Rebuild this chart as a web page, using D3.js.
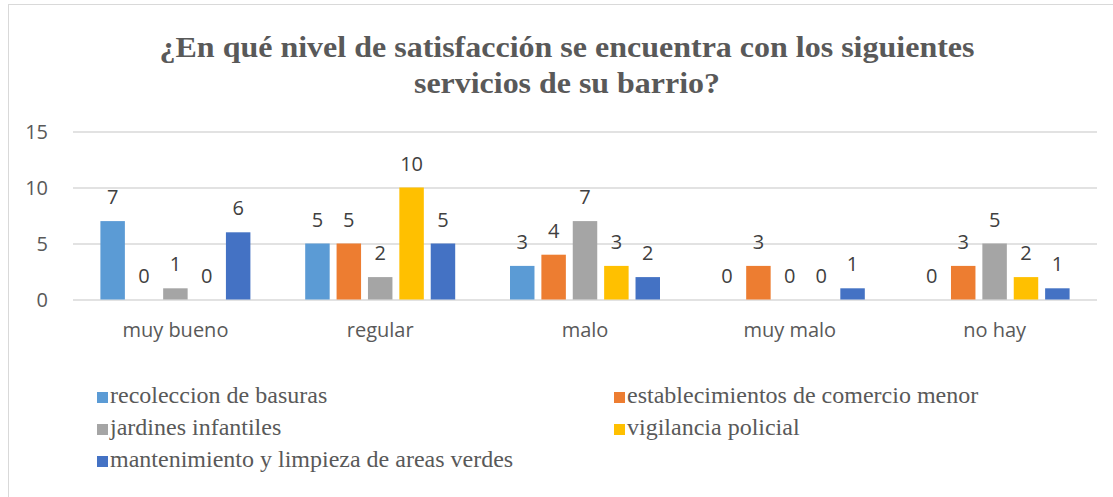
<!DOCTYPE html>
<html>
<head>
<meta charset="utf-8">
<script src="https://cdn.jsdelivr.net/npm/d3@7"></script>
<style>
  html, body { margin: 0; padding: 0; background: #fff; }
  #chart { width: 1113px; height: 497px; overflow: hidden; }
  .serif { font-family: 'Liberation Serif', Tinos, 'Times New Roman', serif; }
  .sans { font-family: 'Open Sans', sans-serif; }
</style>
</head>
<body>
<div id="chart"></div>
<script>
const categories = ['muy bueno', 'regular', 'malo', 'muy malo', 'no hay'];
const seriesNames = [
    'recoleccion de basuras',
    'establecimientos de comercio menor',
    'jardines infantiles',
    'vigilancia policial',
    'mantenimiento y limpieza de areas verdes'
];
const recoleccion = [7, 5, 3, 0, 0];
const comercio = [0, 5, 4, 3, 3];
const jardines = [1, 2, 7, 0, 5];
const vigilancia = [0, 10, 3, 0, 2];
const mantenimiento = [6, 5, 2, 1, 1];
const yTicks = [0, 5, 10, 15];
const colors = ['#5B9BD5', '#ED7D31', '#A5A5A5', '#FFC000', '#4472C4'];
const titleLines = [
    '¿En qué nivel de satisfacción se encuentra con los siguientes',
    'servicios de su barrio?'
];

const seriesValues = [recoleccion, comercio, jardines, vigilancia, mantenimiento];

const width = 1113;
const height = 497;
const plot = { left: 73, right: 1097, top: 131.5, bottom: 299.5 };

const svg = d3.select('#chart')
    .append('svg')
    .attr('width', width)
    .attr('height', height);

// chart border
svg.append('rect')
    .attr('x', 8.5)
    .attr('y', 4.5)
    .attr('width', 1200)
    .attr('height', 600)
    .attr('fill', 'none')
    .attr('stroke', '#d9d9d9')
    .attr('stroke-width', 1);

// title
const title = svg.append('g')
    .attr('class', 'serif')
    .style('font-weight', 'bold')
    .style('font-size', '30px')
    .attr('fill', '#595959')
    .attr('text-anchor', 'middle');

title.selectAll('text')
    .data(titleLines)
    .join('text')
    .attr('x', 567)
    .attr('y', (d, i) => 57 + i * 36)
    .attr('textLength', (d, i) => i === 0 ? 815 : 306)
    .attr('lengthAdjust', 'spacingAndGlyphs')
    .text(d => d);

const x0 = d3.scaleBand()
    .domain(categories)
    .range([plot.left, plot.right])
    .padding(0);

const x1 = d3.scaleBand()
    .domain(d3.range(seriesNames.length))
    .range([27.4, x0.bandwidth() - 27.4])
    .paddingInner(0.22)
    .paddingOuter(0);

const y = d3.scaleLinear()
    .domain([0, 15])
    .range([plot.bottom, plot.top]);

// gridlines + y labels
const yAxis = g => g
    .attr('transform', `translate(${plot.left}, 0)`)
    .call(
        d3.axisLeft(y)
            .tickValues(yTicks)
            .tickSize(-(plot.right - plot.left))
            .tickPadding(25)
    )
    .call(g => g.select('.domain').remove())
    .call(g => g.selectAll('.tick line')
        .attr('stroke', '#d9d9d9')
        .attr('stroke-width', 1.3))
    .call(g => g.selectAll('.tick text')
        .attr('class', 'sans')
        .style('font-size', '20px')
        .attr('fill', '#595959')
        .attr('dy', '0.36em'));

svg.append('g').call(yAxis);

// category labels
const xAxis = g => g
    .attr('transform', `translate(0, ${plot.bottom})`)
    .call(d3.axisBottom(x0).tickSize(0).tickPadding(0))
    .call(g => g.select('.domain').remove())
    .call(g => g.selectAll('.tick text')
        .attr('class', 'sans')
        .style('font-size', '20px')
        .attr('fill', '#595959')
        .attr('y', 37.5)
        .attr('dy', 0));

svg.append('g').call(xAxis);

const rows = categories.flatMap((c, ci) =>
    seriesValues.map((vals, si) => ({ category: c, series: si, value: vals[ci] }))
);

svg.append('g')
    .selectAll('rect')
    .data(rows)
    .join('rect')
    .attr('x', d => x0(d.category) + x1(d.series))
    .attr('y', d => y(d.value))
    .attr('width', x1.bandwidth())
    .attr('height', d => y(0) - y(d.value))
    .attr('fill', d => colors[d.series]);

svg.append('g')
    .attr('class', 'sans')
    .style('font-size', '20px')
    .attr('fill', '#404040')
    .attr('text-anchor', 'middle')
    .selectAll('text')
    .data(rows)
    .join('text')
    .attr('x', d => x0(d.category) + x1(d.series) + x1.bandwidth() / 2)
    .attr('y', d => y(d.value) - 17)
    .text(d => d.value);

// legend
const legend = svg.append('g')
    .attr('class', 'serif')
    .style('font-size', '24px')
    .attr('fill', '#595959');

const legendItems = legend.selectAll('g')
    .data(seriesNames)
    .join('g')
    .attr('transform', (d, i) => `translate(${i % 2 === 0 ? 97 : 614}, ${403 + Math.floor(i / 2) * 32})`);

legendItems.append('rect')
    .attr('x', 0)
    .attr('y', -11)
    .attr('width', 11)
    .attr('height', 11)
    .attr('fill', (d, i) => colors[i]);

legendItems.append('text')
    .attr('x', 13)
    .attr('y', 0)
    .text(d => d);
</script>
</body>
</html>
